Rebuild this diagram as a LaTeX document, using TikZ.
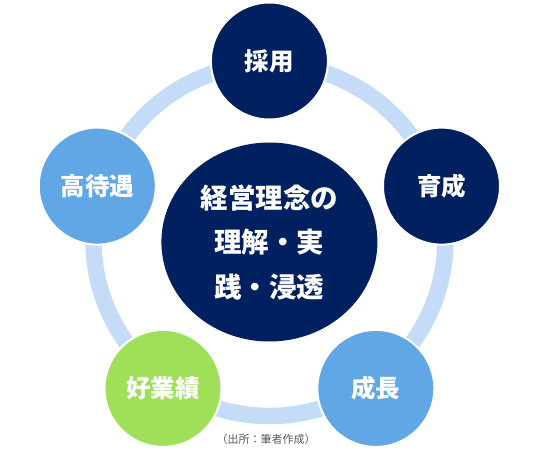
\documentclass[tikz,border=0pt]{standalone}
\usepackage{fontspec}
\setmainfont{Noto Sans CJK JP}
\usetikzlibrary{shapes.geometric}
\definecolor{navy}{HTML}{002060}
\definecolor{skyb}{HTML}{61A6E5}
\definecolor{leaf}{HTML}{A0E058}
\definecolor{ringc}{HTML}{C5DCF8}
\definecolor{capc}{HTML}{595959}
\tikzset{
  petal/.style={circle, minimum size=117pt, inner sep=0pt, draw=white, line width=2pt,
    text=white, font=\fontsize{24.5}{28}\selectfont\bfseries},
}
\begin{document}
\begin{tikzpicture}[x=1pt,y=-1pt]
\useasboundingbox (0,0) rectangle (543,469);
\draw[ringc, line width=16.5pt] (269.4,240) circle[radius=176];
\node[ellipse, fill=navy, minimum width=216pt, minimum height=199pt, inner sep=0pt,
  text=white, align=center, font=\fontsize{27.5}{44.5}\selectfont\bfseries] (core) at (269.4,242)
  {経営理念の\\理解・実\\践・浸透};
\node[petal, fill=navy] (saiyo) at (269.4,61) {採用};
\node[petal, fill=navy] (ikusei) at (441.5,186.1) {育成};
\node[petal, fill=skyb] (seicho) at (375.8,388.4) {成長};
\node[petal, fill=leaf] (kogyo) at (163,388.4) {好業績};
\node[petal, fill=skyb] (kotai) at (97.3,186.1) {高待遇};
\node[text=capc, font=\fontsize{11}{13}\selectfont, inner sep=0pt] (cap) at (266,439.5) {（出所：筆者作成）};
\end{tikzpicture}
\end{document}
